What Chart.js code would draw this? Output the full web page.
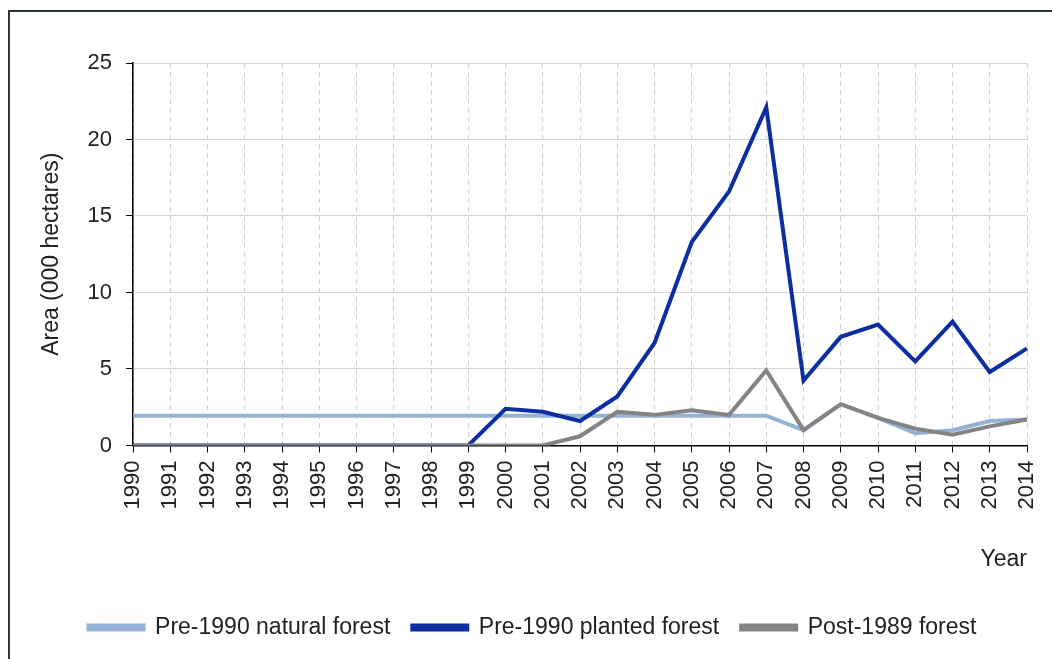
<!DOCTYPE html>
<html>
<head>
<meta charset="utf-8">
<script src="https://cdn.jsdelivr.net/npm/chart.js@4"></script>
<style>
  html, body { margin: 0; padding: 0; background: #fff; }
  #wrap { position: relative; width: 1052px; height: 659px; }
  #frame { position: absolute; left: 8px; top: 10px; right: 0; bottom: 0;
           border-left: 2px solid #2b3836; border-top: 2px solid #2b3836; }
  canvas { position: absolute; left: 0; top: 0; }
</style>
</head>
<body>
<div id="wrap">
  <div id="frame"></div>
  <canvas id="myChart" width="1052" height="659"></canvas>
</div>
<script>
var years = ["1990", "1991", "1992", "1993", "1994", "1995", "1996", "1997", "1998", "1999",
  "2000", "2001", "2002", "2003", "2004", "2005", "2006", "2007", "2008", "2009",
  "2010", "2011", "2012", "2013", "2014"];
var naturalForest = [1.95, 1.95, 1.95, 1.95, 1.95, 1.95, 1.95, 1.95, 1.95, 1.95,
  1.95, 1.95, 1.95, 1.95, 1.95, 1.95, 1.95, 1.95, 1.0, 2.7,
  1.8, 0.8, 1.0, 1.6, 1.7];
var plantedForest = [0, 0, 0, 0, 0, 0, 0, 0, 0, 0,
  2.4, 2.2, 1.6, 3.2, 6.7, 13.3, 16.6, 22.1, 4.25, 7.1,
  7.9, 5.5, 8.1, 4.8, 6.35];
var post1989Forest = [0, 0, 0, 0, 0, 0, 0, 0, 0, 0,
  0, 0, 0.6, 2.2, 2.0, 2.3, 2.0, 4.9, 1.0, 2.7,
  1.8, 1.1, 0.7, 1.25, 1.7];
var yTicks = [0, 5, 10, 15, 20, 25];

document.addEventListener("DOMContentLoaded", function() {
  var ctx = document.getElementById("myChart").getContext("2d");
  var font = "'Liberation Sans', Arial, sans-serif";
  Chart.defaults.font.family = font;
  Chart.defaults.color = "#222";

  function line(label, data, color, order) {
    return {
      label: label,
      data: data,
      borderColor: color,
      backgroundColor: color,
      borderWidth: 4,
      pointRadius: 0,
      tension: 0,
      fill: false,
      order: order
    };
  }

  var myChart = new Chart(ctx, {
    type: "line",
    data: {
      labels: years,
      datasets: [
        line("Pre-1990 natural forest", naturalForest, "#94b1d8", 3),
        line("Pre-1990 planted forest", plantedForest, "#0d2ea0", 2),
        line("Post-1989 forest", post1989Forest, "#848484", 1)
      ]
    },
    options: {
      responsive: false,
      animation: false,
      layout: { padding: { left: 38, right: 25, top: 63, bottom: 10 } },
      plugins: {
        legend: {
          position: "bottom",
          labels: {
            boxWidth: 55,
            boxHeight: 4,
            padding: 22,
            font: { size: 23 },
            color: "#222",
            sort: function(a, b) { return a.datasetIndex - b.datasetIndex; }
          }
        },
        tooltip: { enabled: false }
      },
      scales: {
        x: {
          offset: false,
          afterFit: function(axis) {
            // rotated last label would otherwise push the plot edge inwards
            axis.paddingRight = 0;
          },
          grid: {
            color: "#cfcfcf",
            lineWidth: 1,
            tickColor: "#000",
            tickLength: 7,
            tickBorderDash: []
          },
          border: { color: "#000", width: 1.5, dash: [5, 4] },
          ticks: {
            font: { size: 22 },
            color: "#222",
            minRotation: 90,
            maxRotation: 90,
            padding: 8,
            autoSkip: false
          },
          title: {
            display: true,
            text: "Year",
            align: "end",
            font: { size: 23 },
            color: "#222",
            padding: { top: 28, bottom: 21 }
          }
        },
        y: {
          min: 0,
          max: 25,
          afterBuildTicks: function(axis) {
            axis.ticks = yTicks.map(function(v) { return { value: v }; });
          },
          grid: {
            color: "#d4d4d4",
            lineWidth: 1,
            tickColor: "#000",
            tickLength: 7
          },
          border: { color: "#000", width: 1.5 },
          ticks: {
            font: { size: 22 },
            color: "#222",
            padding: 14
          },
          title: {
            display: true,
            text: "Area (000 hectares)",
            font: { size: 23 },
            color: "#222",
            padding: { top: 0, bottom: 8 }
          }
        }
      }
    }
  });
});
</script>
</body>
</html>
